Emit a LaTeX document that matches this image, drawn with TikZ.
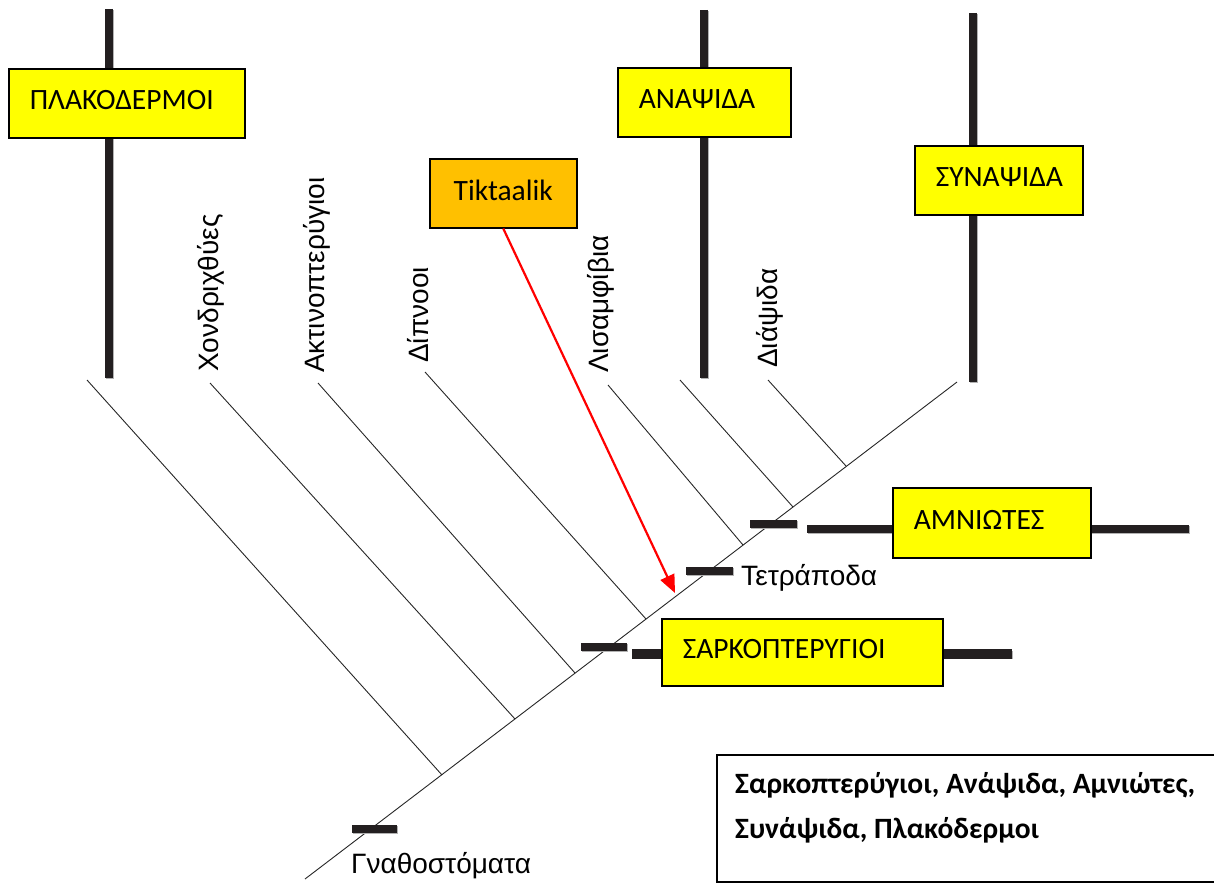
\documentclass[tikz,border=0pt]{standalone}
\usepackage{fontspec}
\setmainfont{Carlito}
\newfontfamily\arialgr{Liberation Sans}
\usepackage{tikz}
\usetikzlibrary{arrows.meta}
\definecolor{jaune}{rgb}{1.0, 1.0, 0.0}
\definecolor{tikorange}{HTML}{FFC000}
\definecolor{barre}{HTML}{231F20}
\tikzstyle{boite} = [rectangle, draw = black, line width = 1.5pt, fill = jaune, anchor = north west, inner xsep = 21pt, minimum height = 69pt, text depth = 6pt, align = left, font = \fontsize{29.5}{33}\selectfont]
\tikzstyle{barre} = [line width = 8pt, draw = barre, preaction = {draw = gray!60, line width = 8pt, transform canvas = {shift = {(1.2pt,-1.2pt)}}}]
\tikzstyle{branche} = [line width = 0.9pt, draw = black!85]
\tikzstyle{groupe} = [rotate = 90, anchor = west, inner sep = 0pt, font = \arialgr\fontsize{28}{32}\selectfont]

\begin{document}
\begin{tikzpicture}[x = 1pt, y = -1pt]
\useasboundingbox (0,0) rectangle (1214,883);

\coordinate (g0) at (305,879);
\coordinate (g1) at (957,382);

\coordinate (h1) at (87,380);  \coordinate (f1) at (442,775);
\coordinate (h2) at (210,383); \coordinate (f2) at (515,719);
\coordinate (h3) at (318,383); \coordinate (f3) at (575,673);
\coordinate (h4) at (425,372); \coordinate (f4) at (646,619);
\coordinate (h5) at (608,385); \coordinate (f5) at (743,545);
\coordinate (h6) at (680,380); \coordinate (f6) at (793,507);
\coordinate (h7) at (768,380); \coordinate (f7) at (846,466);

\draw[branche] (g0) -- (g1);
\foreach \i in {1,...,7}
  \draw[branche] (h\i) -- (f\i);

\draw[barre] (109,9) coordinate (p1) -- (109,378) coordinate (p2);
\draw[barre] (704,10) coordinate (a1) -- (704,378) coordinate (a2);
\draw[barre] (973,13) coordinate (s1) -- (973,382) coordinate (s2);

\draw[barre] (352,829) coordinate (n1) -- (397,829) coordinate (n2);
\draw[barre] (581,647) coordinate (k1) -- (627,647) coordinate (k2);
\draw[barre] (686,571) coordinate (t1) -- (733,571) coordinate (t2);
\draw[barre] (750,524) coordinate (m1) -- (797,524) coordinate (m2);
\draw[barre, line width = 10pt] (632,654) coordinate (k3) -- (1012,654) coordinate (k4);
\draw[barre] (807,529) coordinate (m3) -- (1189,529) coordinate (m4);

\node (1) [boite, text width = 194pt] at (8,68) {ΠΛΑΚΟΔΕΡΜΟΙ};
\node (2) [boite, text width = 131pt] at (617,67) {ΑΝΑΨΙΔΑ};
\node (3) [boite, text width = 126pt] at (914,145) {ΣΥΝΑΨΙΔΑ};
\node (4) [boite, fill = tikorange, align = center, minimum width = 147pt, inner xsep = 4pt] at (429,158) {Tiktaalik};
\node (5) [boite, text width = 156pt, minimum height = 70pt] at (892,487) {ΑΜΝΙΩΤΕΣ};
\node (6) [boite, text width = 239pt, minimum height = 67pt] at (661,618) {ΣΑΡΚΟΠΤΕΡΥΓΙΟΙ};

\node (7) [groupe] at (211,372) {Χονδριχθύες};
\node (8) [groupe] at (317,373) {Ακτινοπτερύγιοι};
\node (9) [groupe] at (418,363) {Δίπνοοι};
\node (10) [groupe] at (601,373) {Λισαμφίβια};
\node (11) [groupe] at (770,368) {Διάψιδα};

\node (12) [groupe, rotate = -90, anchor = west] at (741,578) {Τετράποδα};
\node (13) [groupe, rotate = -90, anchor = west] at (351,866) {Γναθοστόματα};

\coordinate (tip) at (675,593);
\draw[red, line width = 2.2pt, -{Triangle[length = 18pt, width = 15pt]}] (4.south) -- (tip);

\node (14) [rectangle, draw = black, line width = 1.5pt, anchor = north west, minimum width = 510pt, minimum height = 127pt] at (716,754) {};
\node (15) [anchor = north west, inner sep = 0pt, align = left, font = \bfseries\fontsize{29.5}{45}\selectfont] at (735,772) {Σαρκοπτερύγιοι, Ανάψιδα, Αμνιώτες,\\Συνάψιδα, Πλακόδερμοι};

\end{tikzpicture}
\end{document}
